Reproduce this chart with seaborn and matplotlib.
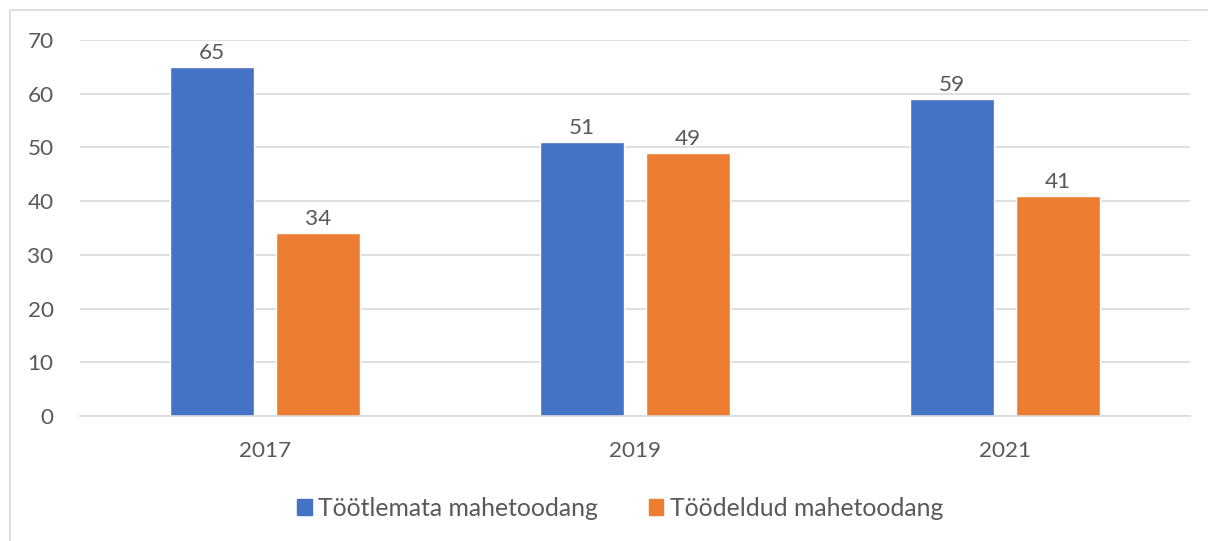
import pandas as pd
import matplotlib
matplotlib.use('Agg')
import matplotlib.pyplot as plt
import matplotlib.patches as mpatches
import seaborn as sns

years = ['2017', '2019', '2021']
unprocessed = [65, 51, 59]
processed = [34, 49, 41]
series_names = ['Töötlemata mahetoodang', 'Töödeldud mahetoodang']
colors = ['#4472C4', '#ED7D31']
y_ticks = [0, 10, 20, 30, 40, 50, 60, 70]

df = pd.DataFrame({
    'year': years * 2,
    'value': unprocessed + processed,
    'series': [series_names[0]] * 3 + [series_names[1]] * 3,
})

sns.set_style('white')
plt.rcParams['font.family'] = ['Lato', 'DejaVu Sans']
text_color = '#595959'

fig = plt.figure(figsize=(12.08, 5.41), dpi=100)
ax = fig.add_axes([80 / 1208, 1 - 416 / 541, 1110 / 1208, 376 / 541])

sns.barplot(data=df, x='year', y='value', hue='series', palette=colors,
            width=0.572, gap=0.205, ax=ax, legend=False, saturation=1)

for cont in ax.containers:
    ax.bar_label(cont, padding=3, fontsize=16.2, color=text_color)

ax.set_ylim(0, 70)
ax.set_xlim(-0.5, 2.5)
ax.set_yticks(y_ticks)
ax.yaxis.grid(True, color='#D9D9D9', linewidth=1.2)
ax.set_axisbelow(True)
for side in ['top', 'right', 'left']:
    ax.spines[side].set_visible(False)
ax.spines['bottom'].set_color('#D9D9D9')
ax.spines['bottom'].set_linewidth(1.2)
ax.tick_params(axis='both', length=0, labelsize=16.2, labelcolor=text_color)
ax.tick_params(axis='y', pad=19)
ax.tick_params(axis='x', pad=18)
ax.set_xlabel('')
ax.set_ylabel('')

handles = [mpatches.Patch(color=c, label=n) for c, n in zip(colors, series_names)]
fig.legend(handles=handles, loc='center', bbox_to_anchor=(620 / 1208, 1 - 508 / 541),
           ncol=2, frameon=False, fontsize=17.8, labelcolor=text_color,
           handlelength=0.6, handleheight=0.6, handletextpad=0.25, columnspacing=2.05)

# chart area border
fig.add_artist(mpatches.Rectangle((10 / 1208, -0.1), 1.2, 1 - 10 / 541 + 0.1,
                                  transform=fig.transFigure, fill=False,
                                  edgecolor='#D9D9D9', linewidth=1.2))

fig.savefig('out.png', dpi=100)
